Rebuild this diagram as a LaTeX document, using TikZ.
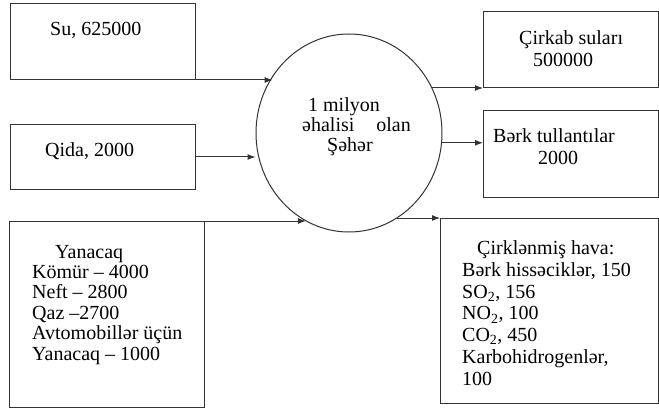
\documentclass[tikz,border=0pt]{standalone}
\usepackage{fontspec}
\setmainfont{Liberation Serif}
\usetikzlibrary{arrows.meta,shapes.geometric}
\tikzset{
  >={Latex[length=8pt,width=6pt]},
  qutu/.style={draw=black!80, line width=1pt, rectangle, anchor=north west, inner sep=0pt},
  axin/.style={->, draw=black!80, line width=1pt},
  yazi/.style={font=\fontsize{20}{#1}\selectfont, align=left, anchor=base west, inner sep=0pt},
  yazi/.default=21,
}

\begin{document}
\begin{tikzpicture}[x=1pt, y=-1pt]
  \useasboundingbox (0,0) rectangle (659,409);
  \node[qutu, minimum width=185pt, minimum height=76pt] (su) at (10,3) {};
  \node[qutu, minimum width=185pt, minimum height=65pt] (qida) at (10,124) {};
  \node[qutu, minimum width=195pt, minimum height=186pt] (yana) at (9,221) {};
  \node[qutu, minimum width=175pt, minimum height=76pt] (cirkab) at (483,11) {};
  \node[qutu, minimum width=175pt, minimum height=87pt] (berk) at (483,110) {};
  \node[qutu, minimum width=218pt, minimum height=185pt] (hava) at (440,218) {};
  \node[draw=black!80, line width=1pt, ellipse, minimum width=186pt, minimum height=198pt, inner sep=0pt] (seher) at (349,133) {};
  % multi-line texts sit on the baseline of their last line
  \node[yazi] (sulbl) at (50,36) {Su, 625000};
  \node[yazi] (qidalbl) at (45,157) {Qida, 2000};
  \node[yazi=20.4] (yanalbl) at (32,360) {\hspace*{23pt}Yanacaq\\Kömür – 4000\\Neft – 2800\\Qaz –2700\\Avtomobillər üçün\\Yanacaq – 1000};
  \node[yazi=20] (seherlbl) at (302,152) {\hspace*{6pt}1 milyon\\əhalisi\hspace{22pt}olan\\\hspace*{25pt}Şəhər};
  \node[yazi=22] (cirkablbl) at (519,67) {Çirkab suları\\\hspace*{14pt}500000};
  \node[yazi=23] (berklbl) at (493,165) {Bərk tullantılar\\\hspace*{45pt}2000};
  \node[yazi=21.7] (havalbl) at (462,385) {\hspace*{15pt}Çirklənmiş hava:\\Bərk hissəciklər, 150\\SO\textsubscript{2}, 156\\NO\textsubscript{2}, 100\\CO\textsubscript{2}, 450\\Karbohidrogenlər,\\100};
  \draw[axin] (su.south east) -- (su.south east -| seher.143);
  \draw[axin] (qida.east) -- (qida.east -| seher.west);
  \draw[axin] (yana.north east) -- (yana.north east -| seher.244);
  \draw[axin] (cirkab.south west -| seher.29) -- (cirkab.south west);
  \draw[axin] (seher.-6) -- (seher.-6 -| berk.west);
  \draw[axin] (hava.north west -| seher.-61) -- (hava.north west);
\end{tikzpicture}
\end{document}
